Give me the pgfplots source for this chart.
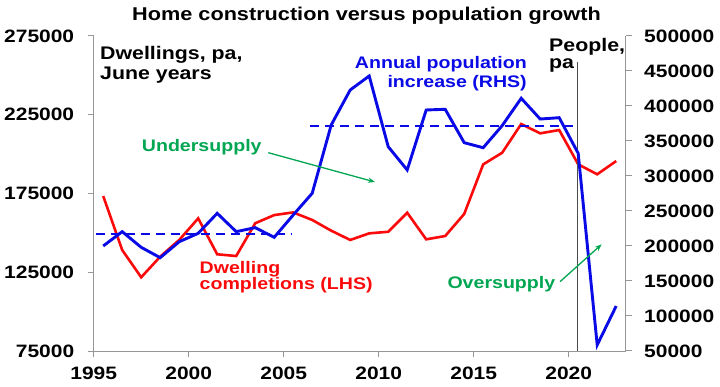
\documentclass[border=0pt]{standalone}
\usepackage{pgfplots}
\pgfplotsset{compat=1.18}
\usetikzlibrary{arrows.meta}
\usepackage{fontspec}
\setmainfont{Liberation Sans}[FakeStretch=1.17]
\definecolor{cred}{RGB}{250,10,10}
\definecolor{cblue}{RGB}{10,10,230}
\definecolor{cgreen}{RGB}{0,166,81}
\definecolor{axgray}{RGB}{150,150,150}
\newcommand{\lf}{\fontsize{18}{20}\selectfont\bfseries}
\newcommand{\blkf}{\fontsize{18.3}{20}\selectfont\bfseries}
\newcommand{\colf}{\fontsize{16.8}{20}\selectfont\bfseries}
\begin{document}
\begin{tikzpicture}
\path[use as bounding box] (0,0) rectangle (720bp,387bp);
\pgfplotsset{
  common/.style={
    at={(93.7bp,36bp)}, anchor=south west, scale only axis,
    width=532bp, height=315bp, xmin=1995, xmax=2023,
    axis line style={axgray, line width=1bp},
    tick style={axgray, line width=1bp},
    major tick length=6bp, tick align=outside,
    ticklabel style={font=\lf, text=black},
    scaled ticks=false,
  }
}
\begin{axis}[common,
  ymin=75000, ymax=275000,
  axis x line*=bottom, axis y line*=left,
  xtick={1995,2000,2005,2010,2015,2020},
  xticklabels={1995,2000,2005,2010,2015,2020},
  ytick={75000,125000,175000,225000,275000},
  yticklabels={75000,125000,175000,225000,275000},
  y tick label style={xshift=-10bp},
  x tick label style={yshift=-6bp},
]
\addplot[cred, line width=2.6bp] coordinates {
(1995.5,173400) (1996.5,139100) (1997.5,121800) (1998.5,134900) (1999.5,145500)
(2000.5,159200) (2001.5,136400) (2002.5,135300) (2003.5,156100) (2004.5,161300)
(2005.5,163000) (2006.5,158200) (2007.5,151400) (2008.5,145500) (2009.5,149700)
(2010.5,150700) (2011.5,162800) (2012.5,145900) (2013.5,148000) (2014.5,162000)
(2015.5,193500) (2016.5,200900) (2017.5,219100) (2018.5,213200) (2019.5,215300)
(2020.5,193500) (2021.5,187200) (2022.5,195600)};
\draw[black!70, line width=1bp] (axis cs:2020.45,75000) -- (axis cs:2020.45,258700);
\end{axis}
\begin{axis}[common,
  ymin=50000, ymax=500000,
  axis x line=none, axis y line*=right,
  ytick={50000,100000,150000,200000,250000,300000,350000,400000,450000,500000},
  yticklabels={50000,100000,150000,200000,250000,300000,350000,400000,450000,500000},
  y tick label style={xshift=9bp},
]
\addplot[cblue, line width=1.8bp, dash pattern=on 9bp off 6bp] coordinates {(1995.1,216700) (2005.4,216700)};
\addplot[cblue, line width=1.8bp, dash pattern=on 9bp off 6bp] coordinates {(2006.4,371400) (2020.2,371400)};
\addplot[cblue, line width=2.9bp] coordinates {
(1995.5,200000) (1996.5,220500) (1997.5,198100) (1998.5,183300) (1999.5,206100)
(2000.5,218100) (2001.5,246700) (2002.5,220500) (2003.5,226200) (2004.5,212400)
(2005.5,244300) (2006.5,275300) (2007.5,372900) (2008.5,422900) (2009.5,442900)
(2010.5,341900) (2011.5,308600) (2012.5,394300) (2013.5,395300) (2014.5,347600)
(2015.5,340400) (2016.5,372000) (2017.5,411000) (2018.5,381400) (2019.5,383300)
(2020.5,332400) (2021.5,58600) (2022.5,114300)};
\end{axis}
\begin{scope}[every node/.style={inner sep=0pt}]
\node[font=\fontsize{18.6}{20}\selectfont\bfseries, anchor=base] at (366.5bp,366bp) {Home construction versus population growth};
\node[font=\blkf, anchor=base west] at (100bp,327.5bp) {Dwellings, pa,};
\node[font=\blkf, anchor=base west] at (100bp,307bp) {June years};
\node[font=\colf, anchor=base east, text=cblue] at (527bp,318.7bp) {Annual population};
\node[font=\colf, anchor=base east, text=cblue] at (527bp,299.5bp) {increase (RHS)};
\node[font=\blkf, anchor=base west] at (549bp,335.3bp) {People,};
\node[font=\blkf, anchor=base west] at (549bp,318.7bp) {pa};
\node[font=\colf, anchor=base west, text=cgreen] at (141.7bp,235.3bp) {Undersupply};
\node[font=\colf, anchor=base west, text=cred] at (199.5bp,113.7bp) {Dwelling};
\node[font=\colf, anchor=base west, text=cred] at (199.5bp,97bp) {completions (LHS)};
\node[font=\colf, anchor=base west, text=cgreen] at (447.3bp,98bp) {Oversupply};
\end{scope}
\draw[cgreen, line width=1.3bp, -{Stealth[length=7bp]}] (268.3bp,234.3bp) -- (375bp,205bp);
\draw[cgreen, line width=1.3bp, -{Stealth[length=7bp]}] (560bp,105.3bp) -- (601.7bp,142.7bp);
\end{tikzpicture}
\end{document}
